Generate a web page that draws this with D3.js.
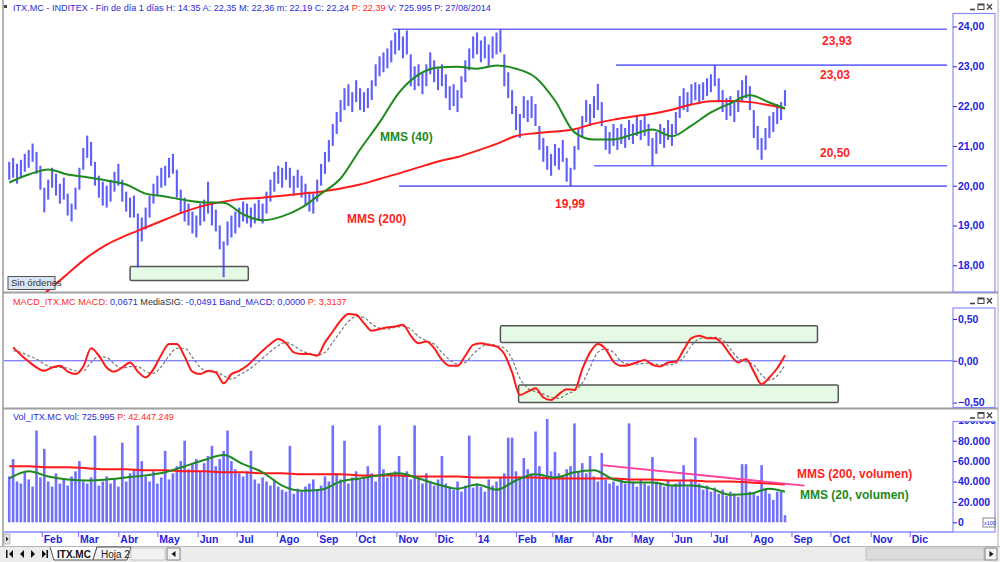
<!DOCTYPE html>
<html><head><meta charset="utf-8">
<script src="https://cdn.jsdelivr.net/npm/d3@7"></script>
<style>body{margin:0;background:#fff;} svg{display:block;font-family:"Liberation Sans",Arial,sans-serif;}</style>
</head><body><svg id="c" width="1000" height="562"></svg>
<script>
// ---------------- DATA ----------------
const startDate = new Date(2013, 0, 7);   // first sample
const stepDays = 3;                       // calendar days between samples
const priceLow = [20.15,20.2,20.05,20.2,20.35,20.45,20.6,20.3,19.9,19.33,
19.65,19.95,19.75,19.55,19.65,19.25,19.1,19.4,19.9,20.4,
20.7,20.5,20.0,19.7,19.5,19.45,19.6,19.85,20.0,19.6,
19.35,19.2,19.2,17.95,18.6,18.9,19.2,19.55,19.75,19.95,
20.0,20.2,20.3,19.7,19.3,19.1,19.0,18.8,18.7,19.0,
19.1,19.3,19.0,18.85,18.4,17.7,18.5,18.7,18.8,18.95,
19.1,19.05,18.95,19.05,19.15,19.05,19.3,19.6,19.85,20.05,
19.95,20.15,19.95,19.75,19.95,19.7,19.5,19.35,19.3,19.6,
20.0,20.3,20.6,21.0,21.3,21.6,21.9,22.0,21.85,22.1,
21.9,21.85,21.95,22.15,22.5,22.75,22.85,22.95,23.1,23.3,
23.4,23.2,23.3,22.5,22.4,22.5,22.3,22.5,22.8,22.6,
22.4,22.5,22.2,21.9,22.0,21.85,22.2,22.6,22.9,23.2,
23.3,23.1,23.2,23.0,23.2,23.3,23.35,22.5,22.2,21.8,
21.4,21.2,21.7,21.6,21.7,21.5,20.9,20.6,20.4,20.25,
20.5,20.4,20.6,20.1,19.99,20.4,20.9,21.2,21.6,21.5,
21.7,21.9,21.5,20.9,20.8,21.0,20.9,21.05,20.95,21.15,
21.05,21.25,21.15,21.25,21.0,20.5,20.8,21.05,20.95,21.15,
21.0,21.3,21.7,21.9,21.85,22.05,22.15,22.05,22.15,22.25,
22.35,22.5,22.1,21.85,21.65,21.75,21.6,21.85,22.1,22.2,
21.9,21.2,20.9,20.65,20.9,21.2,21.35,21.55,21.65,22.0];
const priceHigh = [20.6,20.7,20.55,20.65,20.8,20.9,21.06,20.85,20.5,19.95,
20.15,20.45,20.3,20.05,20.2,19.8,19.55,19.95,20.45,20.95,
21.26,21.1,20.6,20.25,20.1,20.0,20.15,20.35,20.55,20.15,
19.85,19.7,19.75,19.3,19.2,19.45,19.75,20.05,20.25,20.45,
20.5,20.7,20.8,20.4,19.9,19.7,19.55,19.35,19.25,19.55,
19.65,20.1,19.6,19.4,19.0,18.6,19.1,19.25,19.35,19.45,
19.6,19.55,19.45,19.55,19.65,19.55,19.85,20.15,20.35,20.5,
20.45,20.6,20.45,20.25,20.4,20.25,20.05,19.85,19.8,20.15,
20.55,20.85,21.15,21.55,21.85,22.15,22.45,22.55,22.35,22.65,
22.45,22.35,22.45,22.65,23.05,23.25,23.35,23.45,23.65,23.85,
23.93,23.75,23.9,23.3,23.0,23.05,22.85,23.05,23.35,23.15,
22.95,23.05,22.8,22.5,22.55,22.4,22.75,23.15,23.45,23.75,
23.85,23.65,23.75,23.55,23.75,23.85,23.93,23.3,22.85,22.4,
22.0,21.8,22.25,22.15,22.25,22.05,21.5,21.2,21.0,20.8,
21.05,20.95,21.15,20.7,20.45,21.0,21.45,21.75,22.15,22.05,
22.25,22.56,22.1,21.5,21.35,21.55,21.45,21.55,21.45,21.65,
21.55,21.75,21.65,21.75,21.55,21.2,21.35,21.55,21.45,21.65,
21.55,21.85,22.25,22.45,22.35,22.55,22.6,22.55,22.6,22.7,
22.8,23.03,22.7,22.4,22.2,22.25,22.1,22.4,22.65,22.77,
22.5,21.9,21.5,21.2,21.45,21.75,21.85,22.05,22.1,22.4];
// volume, in thousands of axis units (x100)
const volume = [45,62,40,38,50,42,35,90,44,72,
40,35,48,38,42,36,45,50,60,40,
38,44,85,36,40,45,38,42,35,78,
40,48,52,95,60,45,40,50,38,44,
70,42,48,55,60,80,52,58,62,50,
58,65,75,55,62,70,90,60,52,48,
45,50,70,42,38,44,40,36,42,35,
32,30,75,28,33,30,35,38,42,32,
36,45,40,95,48,42,80,38,44,50,
42,45,55,48,40,95,52,44,48,50,
65,46,50,42,95,44,38,48,40,36,
42,65,38,35,32,40,30,36,85,34,
38,35,30,42,36,40,44,48,83,83,
50,45,63,52,48,89,55,45,105,50,
69,48,45,52,55,97,50,58,48,65,
45,40,68,42,38,40,36,42,38,97,
40,35,42,38,36,64,40,38,35,42,
36,38,40,56,35,42,83,38,32,36,
30,34,28,32,26,30,28,25,57,57,
30,28,26,56,32,28,22,30,30,7];
// moving averages sampled every 5th sample (+ last)
const mms40 = [20.08,20.28,20.41,20.28,20.21,20.13,20.03,19.80,19.73,19.64,19.58,19.57,19.28,19.13,19.23,19.45,19.80,20.18,20.91,21.59,22.34,22.79,22.97,22.99,22.94,23.02,22.94,22.72,22.14,21.34,21.16,21.16,21.29,21.41,21.24,21.51,21.84,22.07,22.27,22.09,21.94];
const mms200 = [16.54,16.94,17.37,17.79,18.20,18.52,18.75,18.95,19.15,19.35,19.50,19.60,19.67,19.70,19.75,19.80,19.85,19.93,20.03,20.17,20.31,20.46,20.61,20.72,20.88,21.05,21.25,21.32,21.36,21.42,21.56,21.66,21.74,21.81,21.91,22.04,22.12,22.13,22.10,22.02,21.94];
const volMms20 = [43,50,45,42,41,42,44,46,49,55,61,66,57,49,36,31,32,40,43,46,48,43,37,33,37,32,41,47,44,49,51,42,39,39,36,36,33,27,28,33,30];
const volMms200 = [55,55,54,54,53,52,52,51,51,50,50,49,49,48,48,47,47,47,46,46,46,45,45,45,44,44,44,44,43,43,43,43,42,42,41,41,40,40,39,38,37];
// MACD sampled every 2nd sample
const macd = [0.16,0.07,-0.01,-0.08,-0.12,-0.08,-0.06,-0.13,-0.16,-0.07,
0.15,0.06,-0.08,-0.13,-0.08,-0.02,-0.13,-0.20,-0.10,0.07,
0.20,0.20,0.05,-0.13,-0.16,-0.12,-0.14,-0.27,-0.16,-0.12,
-0.06,0.03,0.12,0.20,0.26,0.21,0.10,0.08,0.08,0.06,
0.22,0.35,0.48,0.56,0.55,0.45,0.36,0.38,0.40,0.41,
0.43,0.30,0.21,0.23,0.15,0.01,-0.06,-0.06,0.06,0.19,
0.21,0.19,0.17,0.08,-0.14,-0.41,-0.37,-0.33,-0.44,-0.47,
-0.40,-0.34,-0.35,-0.10,0.10,0.20,0.14,-0.01,-0.06,-0.05,
-0.02,0.01,-0.05,-0.07,-0.02,-0.01,0.13,0.27,0.30,0.27,
0.27,0.20,0.07,-0.02,0.02,-0.13,-0.28,-0.20,-0.09,0.067];
const macdSignal = [0.12,0.10,0.06,0.02,-0.04,-0.08,-0.08,-0.09,-0.12,-0.12,
-0.02,0.05,0.04,-0.04,-0.09,-0.07,-0.07,-0.13,-0.15,-0.07,
0.06,0.15,0.15,0.04,-0.08,-0.13,-0.13,-0.18,-0.22,-0.17,
-0.12,-0.05,0.03,0.11,0.18,0.22,0.18,0.12,0.09,0.07,
0.10,0.22,0.35,0.47,0.53,0.52,0.44,0.39,0.38,0.40,
0.41,0.38,0.29,0.24,0.20,0.10,0.01,-0.04,-0.02,0.08,
0.16,0.20,0.18,0.15,0.02,-0.21,-0.33,-0.37,-0.40,-0.44,
-0.45,-0.40,-0.36,-0.27,-0.08,0.10,0.14,0.10,-0.01,-0.04,
-0.04,-0.03,-0.03,-0.05,-0.05,-0.03,0.04,0.18,0.26,0.28,
0.28,0.25,0.14,0.03,-0.01,-0.05,-0.17,-0.23,-0.18,-0.049];
// axis ticks / labels
const monthLabels = ["Ene","Feb","Mar","Abr","May","Jun","Jul","Ago","Sep","Oct","Nov","Dic"];
const priceTicks = [18,19,20,21,22,23,24];
const macdTicks = [-0.5,0,0.5];
const volTicks = [0,20,40,60,80,100];
// annotations: support/resistance levels [value, start date, label]
const levels = [[23.93,"2013-10-29","23,93"],[23.03,"2014-04-19","23,03"],[20.50,"2014-04-02","20,50"],[19.99,"2013-11-03","19,99"]];
const priceBoxes = [["2013-04-10","2013-07-10",17.97,17.62]];
const macdBoxes = [["2014-01-20","2014-09-21",0.42,0.22],["2014-02-03","2014-10-07",-0.29,-0.50]];
const volTrend = [["2014-04-08",56],["2014-09-11",36]];

// ---------------- SCALES ----------------
const svg = d3.select("#c");
const parse = d3.timeParse("%Y-%m-%d");
const dateAt = i => d3.timeDay.offset(startDate, stepDays * i);
const xAnchor = d3.scaleTime().domain([new Date(2013,1,1), new Date(2014,1,1)]).range([41.7, 516]);
const x = d3.scaleTime().domain([xAnchor.invert(4), xAnchor.invert(953)]).range([4, 953]);
const yP = d3.scaleLinear().domain([18, 24]).range([265.3, 26.5]);
const yM = d3.scaleLinear().domain([-0.5, 0.5]).range([402.5, 319]);
const yV = d3.scaleLinear().domain([0, 80]).range([522.3, 440.7]);
const maIdx = d3.range(0, 200, 5).concat([199]);
const macdIdx = d3.range(1, 200, 2);

const BLUE = "#3b3bff", AXB = "#2424e0";
const defs = svg.append("defs");
function clip(id, y0, y1){ defs.append("clipPath").attr("id", id).append("rect").attr("x",4).attr("y",y0).attr("width",949).attr("height",y1-y0); }
clip("cp", 16, 292); clip("cm", 309, 407); clip("cv", 419, 530);

// frame
svg.append("rect").attr("width",1000).attr("height",562).attr("fill","#fff");
svg.append("line").attr("x1",3).attr("x2",3).attr("y1",0).attr("y2",546).attr("stroke","#9a9a9a").attr("stroke-width",1.5);
svg.append("line").attr("x1",998).attr("x2",998).attr("y1",0).attr("y2",546).attr("stroke","#b0b0b0");
[292.5, 408.5].forEach(y => svg.append("line").attr("x1",3).attr("x2",998).attr("y1",y).attr("y2",y).attr("stroke","#a0a0a0").attr("stroke-width",2));

// ---------------- PRICE PANEL ----------------
const gp = svg.append("g").attr("clip-path","url(#cp)");
levels.forEach(l => gp.append("line").attr("x1", x(parse(l[1]))).attr("x2", 947).attr("y1", yP(l[0])).attr("y2", yP(l[0])).attr("stroke","#6e6eff").attr("stroke-width",1.6));
priceBoxes.forEach(b => gp.append("rect").attr("x", x(parse(b[0]))).attr("y", yP(b[2])).attr("width", x(parse(b[1])) - x(parse(b[0]))).attr("height", yP(b[3]) - yP(b[2])).attr("rx",1.5).attr("fill","#e4fae4").attr("stroke","#555").attr("stroke-width",1.5));
gp.append("g").selectAll("line").data(priceHigh).join("line")
  .attr("x1",(d,i)=>x(dateAt(i))).attr("x2",(d,i)=>x(dateAt(i)))
  .attr("y1",(d,i)=>yP(priceLow[i])).attr("y2",d=>yP(d))
  .attr("stroke",BLUE).attr("stroke-width",2.1).attr("opacity",0.82);
const maLine = (ys, arr) => d3.line().x((d,k)=>x(dateAt(maIdx[k]))).y(d=>ys(d)).curve(d3.curveMonotoneX)(arr);
gp.append("path").attr("d", maLine(yP, mms200)).attr("fill","none").attr("stroke","#ff1a1a").attr("stroke-width",2);
gp.append("path").attr("d", maLine(yP, mms40)).attr("fill","none").attr("stroke","#1d8a1d").attr("stroke-width",2);
const lbl = (t, xx, yy, c) => svg.append("text").attr("x",xx).attr("y",yy).attr("fill",c).attr("font-weight","bold").attr("font-size",12).text(t);
lbl("23,93", 822, 45, "#ff1f1f"); lbl("23,03", 820, 79, "#ff1f1f"); lbl("20,50", 820, 157, "#ff1f1f"); lbl("19,99", 555, 208, "#ff1f1f");
lbl("MMS (40)", 380, 141, "#1d8a1d"); lbl("MMS (200)", 347, 223, "#ff1f1f");
svg.append("rect").attr("x",8).attr("y",276.5).attr("width",47).attr("height",13).attr("fill","#d9e5f2").attr("stroke","#555").attr("stroke-width",1);
svg.append("text").attr("x",11).attr("y",286).attr("font-size",9.5).attr("fill","#333").text("Sin órdenes");

// headers
function header(y, parts){
  const t = svg.append("text").attr("x",13).attr("y",y).attr("font-size",9.1);
  parts.forEach(p => t.append("tspan").attr("fill",p[1]).text(p[0]));
}
svg.append("rect").attr("x",4).attr("y",5).attr("width",3).attr("height",3).attr("fill","#444");
header(11, [["ITX.MC - INDITEX - Fin de día 1 días H: 14:35 A: 22,35 M: 22,36 m: 22,19 C: 22,24 ","#2b2bd8"],["P: 22,39 ","#ff2a2a"],["V: 725.995 P: 27/08/2014","#2b2bd8"]]);
header(305, [["MACD_ITX.MC MACD: ","#ff2a2a"],["0,0671 ","#2b2bd8"],["MediaSIG: ","#333"],["-0,0491 ","#2b2bd8"],["Band_MACD: 0,0000 ","#2b2bd8"],["P: 3,3137","#ff2a2a"]]);
header(420, [["Vol_ITX.MC Vol: 725.995 ","#2b2bd8"],["P: 42.447.249","#ff2a2a"]]);

// ---------------- MACD PANEL ----------------
const gm = svg.append("g").attr("clip-path","url(#cm)");
gm.append("line").attr("x1",4).attr("x2",953).attr("y1",yM(0)).attr("y2",yM(0)).attr("stroke","#5a5aff").attr("stroke-width",1.2);
macdBoxes.forEach(b => gm.append("rect").attr("x", x(parse(b[0]))).attr("y", yM(b[2])).attr("width", x(parse(b[1])) - x(parse(b[0]))).attr("height", yM(b[3]) - yM(b[2])).attr("rx",1.5).attr("fill","#e4fae4").attr("stroke","#555").attr("stroke-width",1.5));
const mLine = d3.line().x((d,k)=>x(dateAt(macdIdx[k]))).y(d=>yM(d)).curve(d3.curveMonotoneX);
gm.append("path").attr("d", mLine(macdSignal)).attr("fill","none").attr("stroke","#777").attr("stroke-width",1.2).attr("stroke-dasharray","3,2");
gm.append("path").attr("d", mLine(macd)).attr("fill","none").attr("stroke","#ff1a1a").attr("stroke-width",2);

// ---------------- VOLUME PANEL ----------------
const gv = svg.append("g").attr("clip-path","url(#cv)");
gv.append("g").selectAll("rect").data(volume).join("rect")
  .attr("x",(d,i)=>x(dateAt(i))-1.3).attr("width",2.6)
  .attr("y",d=>yV(d)).attr("height",d=>yV(0)-yV(d)).attr("fill","#7070ff");
gv.append("path").attr("d", maLine(yV, volMms200)).attr("fill","none").attr("stroke","#ff1a1a").attr("stroke-width",2);
gv.append("path").attr("d", maLine(yV, volMms20)).attr("fill","none").attr("stroke","#1d8a1d").attr("stroke-width",2);
gv.append("line").attr("x1",x(parse(volTrend[0][0]))).attr("y1",yV(volTrend[0][1])).attr("x2",x(parse(volTrend[1][0]))).attr("y2",yV(volTrend[1][1])).attr("stroke","#ff3d9a").attr("stroke-width",1.8);
lbl("MMS (200, volumen)", 797, 478, "#ff1f1f"); lbl("MMS (20, volumen)", 800, 499, "#1d8a1d");

// ---------------- RIGHT AXES ----------------
function axisBox(y0, y1){ svg.append("rect").attr("x",953).attr("y",y0).attr("width",42).attr("height",y1-y0).attr("fill","#fff").attr("stroke","#8a8aff").attr("stroke-width",1.2); }
axisBox(13.5, 292); axisBox(308, 407.5); axisBox(421.5, 532);
defs.append("clipPath").attr("id","cva").append("rect").attr("x",-5).attr("y",422).attr("width",50).attr("height",110);
function rAxis(scale, ticks, fmt, clipId){
  const g = svg.append("g").attr("transform","translate(953,0)")
    .call(d3.axisRight(scale).tickValues(ticks).tickSize(4).tickPadding(1).tickFormat(fmt));
  if (clipId) g.attr("clip-path", `url(#${clipId})`);
  g.select(".domain").remove();
  g.selectAll(".tick line").attr("stroke",AXB);
  g.selectAll(".tick text").attr("fill",AXB).attr("font-size",10.5).attr("font-weight","bold").attr("font-family","Liberation Sans, Arial");
  return g;
}
const comma = f => v => f(v).replace(".", ",");
rAxis(yP, priceTicks, comma(d3.format(".2f")));
rAxis(yM, macdTicks, v => (v===0 ? "0,00" : comma(d3.format(".2f"))(v)));
rAxis(yV, volTicks, v => v===0 ? "0" : d3.format(",")(v*1000).replace(/,/g,"."), "cva");
svg.append("rect").attr("x",983).attr("y",518).attr("width",12).attr("height",9).attr("fill","#fff").attr("stroke","#666").attr("stroke-width",0.8);
svg.append("text").attr("x",984).attr("y",525).attr("font-size",5.5).attr("fill","#2424e0").text("x100");

// window icons
function icons(y){
  const g = svg.append("g").attr("transform",`translate(969,${y})`).attr("fill","none").attr("stroke","#444").attr("stroke-width",1);
  g.append("line").attr("x1",1).attr("x2",6).attr("y1",6).attr("y2",6).attr("stroke-width",1.6);
  g.append("rect").attr("x",9).attr("y",0.5).attr("width",6).attr("height",5.5);
  g.append("line").attr("x1",9).attr("x2",15).attr("y1",1.2).attr("y2",1.2).attr("stroke-width",1.5);
  g.append("path").attr("d","M18,0.5 L23,6 M23,0.5 L18,6").attr("stroke-width",1.3);
}
icons(3.5); icons(297.5); icons(412);

// ---------------- X AXIS ----------------
svg.append("line").attr("x1",4).attr("x2",953).attr("y1",532).attr("y2",532).attr("stroke","#8a8aff").attr("stroke-width",1.5);
const gx = svg.append("g").attr("transform","translate(0,532)")
  .call(d3.axisBottom(x).ticks(d3.timeMonth.every(1)).tickSize(5)
     .tickFormat(d => d.getMonth()===0 ? String(d.getFullYear()).slice(2) : monthLabels[d.getMonth()]));
gx.select(".domain").remove();
gx.selectAll(".tick").filter(d => x(d) < 10 || x(d) > 945).remove();
gx.selectAll(".tick line").attr("stroke","#6a6aff");
gx.selectAll(".tick text").attr("text-anchor","start").attr("x",1.5).attr("y",4).attr("fill",AXB).attr("font-size",10.5).attr("font-weight","bold").attr("font-family","Liberation Sans, Arial");
svg.append("rect").attr("x",4).attr("y",534).attr("width",6).attr("height",10).attr("fill","#e4e4e4").attr("stroke","#999").attr("stroke-width",0.6);
svg.append("path").attr("d","M6,536.5 L8.5,539 L6,541.5Z").attr("fill","#222");

// ---------------- TAB BAR ----------------
svg.append("rect").attr("x",0).attr("y",546).attr("width",1000).attr("height",16).attr("fill","#ececec");
svg.append("line").attr("x1",0).attr("x2",1000).attr("y1",546.5).attr("y2",546.5).attr("stroke","#b5b5b5");
const nav = svg.append("g").attr("fill","#111");
nav.append("rect").attr("x",6).attr("y",550).attr("width",1.5).attr("height",8);
nav.append("path").attr("d","M13,550 L9,554 L13,558Z");
nav.append("path").attr("d","M24,550 L20,554 L24,558Z");
nav.append("path").attr("d","M31,550 L35,554 L31,558Z");
nav.append("path").attr("d","M42,550 L46,554 L42,558Z");
nav.append("rect").attr("x",46.5).attr("y",550).attr("width",1.5).attr("height",8);
svg.append("path").attr("d","M50,547 L54,560 L93,560 L97,547").attr("fill","#fff").attr("stroke","#555");
svg.append("text").attr("x",57).attr("y",557.5).attr("font-size",10).attr("font-weight","bold").attr("fill","#111").text("ITX.MC");
svg.append("path").attr("d","M93,560 L97,547 L131,547 L127,560Z").attr("fill","#f4f4f4").attr("stroke","#555");
svg.append("text").attr("x",101).attr("y",557.5).attr("font-size",10).attr("fill","#222").text("Hoja 2");
svg.append("rect").attr("x",131).attr("y",548).attr("width",34).attr("height",12).attr("fill","#f2f2f2").attr("stroke","#aaa").attr("stroke-width",0.6);
svg.append("rect").attr("x",167).attr("y",548).attr("width",13).attr("height",12).attr("fill","#f2f2f2").attr("stroke","#666").attr("stroke-width",0.8);
svg.append("path").attr("d","M175.5,551 L171.5,554 L175.5,557Z").attr("fill","#111");
svg.append("rect").attr("x",866).attr("y",548).attr("width",118).attr("height",12).attr("fill","#dcdcdc").attr("stroke","#aaa").attr("stroke-width",0.6);
svg.append("rect").attr("x",985).attr("y",548).attr("width",12).attr("height",12).attr("fill","#f2f2f2").attr("stroke","#666").attr("stroke-width",0.8);
svg.append("path").attr("d","M989.5,551 L993.5,554 L989.5,557Z").attr("fill","#111");
</script></body></html>
